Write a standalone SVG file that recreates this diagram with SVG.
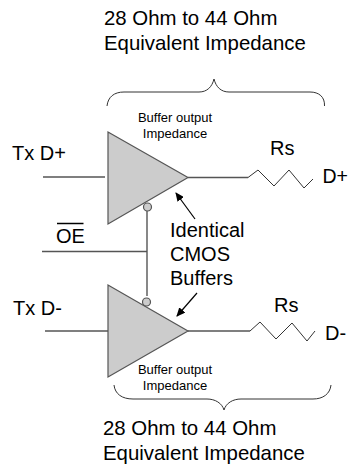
<svg xmlns="http://www.w3.org/2000/svg" width="348" height="468" viewBox="0 0 348 468">
<style>
text{font-family:"Liberation Sans",Arial,sans-serif;fill:#000}
.big{font-size:20.4px}
.mid{font-size:20px}
.small{font-size:13px;text-anchor:middle}
.ln{fill:none;stroke:#555;stroke-width:1.4}
.thin{fill:none;stroke:#333;stroke-width:1}
.tri{fill:#ccc;stroke:#555;stroke-width:1.2}
.bub{fill:#ccc;stroke:#555;stroke-width:1.2}
</style>
<defs>
<marker id="ah" markerWidth="9" markerHeight="8" refX="8" refY="4" orient="auto" markerUnits="userSpaceOnUse"><path d="M0 0L9 4L0 8Z" fill="#000"/></marker>
</defs>
<rect width="348" height="468" fill="#fff"/>
<g id="connectors">
<path class="ln" d="M43 177H105"/>
<path class="ln" d="M42 251.500H147"/>
<path class="ln" d="M147 211V296"/>
<path class="ln" d="M45 331H108"/>
<path class="ln" d="M188 177.500H248"/>
<path class="ln" d="M188 331H250"/>
<path class="thin" d="M248 177.500L258 170L274 186L289 170L304 188L313 179"/>
<path class="thin" d="M250 331L260 322L276 339L292 323L307 341L315 331"/>
<path d="M195 219L176 193" fill="none" stroke="#000" stroke-width="1.200" marker-end="url(#ah)"/>
<path d="M197 293L177 316" fill="none" stroke="#000" stroke-width="1.200" marker-end="url(#ah)"/>
</g>
<g id="brace-top"><path class="thin" d="M107 106C108 97 114 92 124 92H199C207 92 212 87 214 79C216 87 221 92 229 92H310C319 92 325 97 324.500 106"/></g>
<g id="brace-bottom"><path class="thin" d="M114 385C115 394 122 399 133 399H207C215 399 222 403 224 410C226 403 233 399 241 399H313C323 399 330 394 331 385"/></g>
<g id="buffer-top"><path class="tri" d="M108 132V224L188 177.500Z"/><circle class="bub" cx="147.500" cy="207" r="4"/></g>
<g id="buffer-bottom"><path class="tri" d="M108 285V377L188 331Z"/><circle class="bub" cx="146.500" cy="302" r="4"/></g>
<g id="title-top"><text class="big" x="104" y="25">28 Ohm to 44 Ohm</text><text class="big" x="104" y="50">Equivalent Impedance</text></g>
<g id="title-bottom"><text class="big" x="103" y="435">28 Ohm to 44 Ohm</text><text class="big" x="103" y="460">Equivalent Impedance</text></g>
<g id="impedance-top"><text class="small" x="175" y="122">Buffer output</text><text class="small" x="175" y="138">Impedance</text></g>
<g id="impedance-bottom"><text class="small" x="175" y="374">Buffer output</text><text class="small" x="175" y="390">Impedance</text></g>
<g id="label-txp"><text class="mid" x="12" y="160">Tx D+</text></g>
<g id="label-txm"><text class="mid" x="13" y="315">Tx D-</text></g>
<g id="label-oe"><text class="mid" x="56" y="243">OE</text><path d="M57 223.500H83.500" stroke="#000" stroke-width="1.500" fill="none"/></g>
<g id="label-rs1"><text class="mid" x="270" y="155">Rs</text></g>
<g id="label-rs2"><text class="mid" x="274" y="312">Rs</text></g>
<g id="label-dp"><text x="322.500" y="183" font-size="19.500">D+</text></g>
<g id="label-dm"><text class="mid" x="325" y="340">D-</text></g>
<g id="label-cmos"><text class="mid" x="170" y="237">Identical</text><text class="mid" x="170" y="261">CMOS</text><text class="mid" x="170" y="285">Buffers</text></g>
</svg>
